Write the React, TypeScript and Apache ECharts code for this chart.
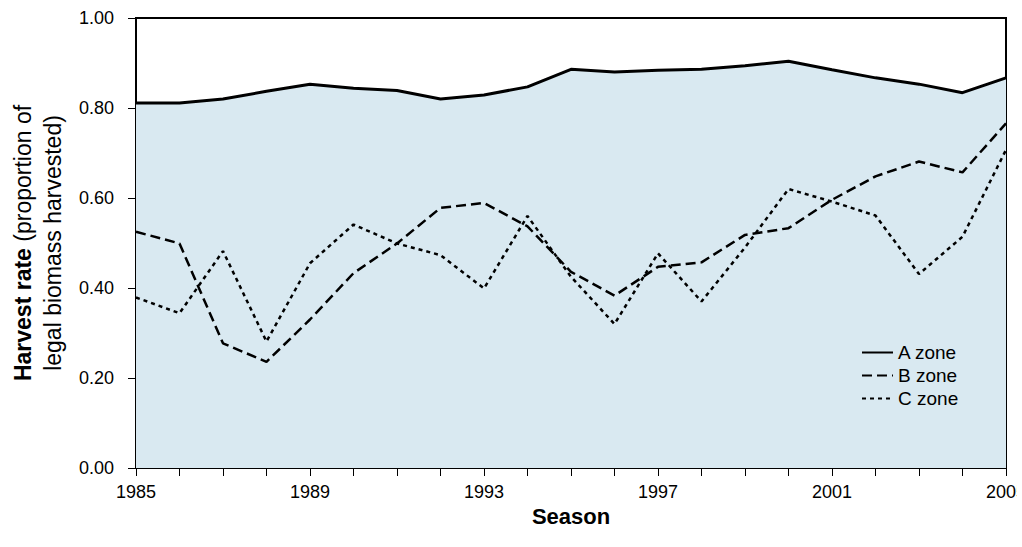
import React, { useEffect, useRef } from "react";
import * as echarts from "echarts";

const seasons = ["1985","1986","1987","1988","1989","1990","1991","1992","1993","1994","1995","1996","1997","1998","1999","2000","2001","2002","2003","2004","2005"];
const aZone = [0.811,0.811,0.820,0.837,0.853,0.844,0.839,0.820,0.829,0.847,0.886,0.880,0.884,0.886,0.894,0.904,0.885,0.867,0.853,0.834,0.867];
const bZone = [0.525,0.499,0.277,0.236,0.330,0.433,0.499,0.578,0.589,0.537,0.436,0.383,0.447,0.457,0.518,0.533,0.596,0.648,0.681,0.657,0.766];
const cZone = [0.379,0.344,0.482,0.281,0.455,0.541,0.499,0.473,0.399,0.560,0.425,0.320,0.477,0.370,0.490,0.620,0.592,0.561,0.431,0.514,0.707];
const seriesNames = ["A zone", "B zone", "C zone"];

const FONT = "'Liberation Sans', Arial, Helvetica, sans-serif";

export default function App() {
  const ref = useRef<HTMLDivElement>(null);
  useEffect(() => {
    if (!ref.current) return;
    const chart = echarts.init(ref.current, null, { renderer: "svg" });
    chart.setOption({
      animation: false,
      backgroundColor: "#ffffff",
      textStyle: { fontFamily: FONT, color: "#000" },
      grid: {
        left: 136,
        top: 18,
        width: 870,
        height: 450,
        show: true,
        borderColor: "#000",
        borderWidth: 2,
        backgroundColor: "transparent",
      },
      legend: {
        data: seriesNames,
        orient: "vertical",
        left: 856,
        top: 338,
        itemWidth: 31,
        itemHeight: 14,
        itemGap: 4,
        selectedMode: false,
        itemStyle: { color: "transparent", borderColor: "transparent", borderWidth: 0, opacity: 0 },
        textStyle: { fontFamily: FONT, fontSize: 19, color: "#000" },
      },
      xAxis: {
        type: "category",
        data: seasons,
        boundaryGap: false,
        name: "Season",
        nameLocation: "middle",
        nameGap: 33,
        nameTextStyle: { fontFamily: FONT, fontSize: 22, fontWeight: "bold", color: "#000" },
        axisLine: { lineStyle: { color: "#000", width: 2 } },
        axisTick: { show: true, interval: 0, length: 8, lineStyle: { color: "#000", width: 1 } },
        axisLabel: { interval: 3, margin: 15, fontSize: 18, color: "#000", fontFamily: FONT },
        splitLine: { show: false },
      },
      yAxis: {
        type: "value",
        min: 0,
        max: 1,
        interval: 0.2,
        name: "{b|Harvest rate} (proportion of\nlegal biomass harvested)",
        nameLocation: "middle",
        nameRotate: 90,
        nameGap: 63,
        nameTextStyle: {
          fontFamily: FONT,
          fontSize: 23,
          lineHeight: 30,
          color: "#000",
          rich: { b: { fontFamily: FONT, fontSize: 23, fontWeight: "bold", lineHeight: 30, color: "#000" } },
        },
        axisLine: { show: true, lineStyle: { color: "#000", width: 2 } },
        axisTick: { show: true, length: 8, lineStyle: { color: "#000", width: 1 } },
        axisLabel: { margin: 22, fontSize: 18, color: "#000", fontFamily: FONT, formatter: (v: number) => v.toFixed(2) },
        splitLine: { show: false },
      },
      series: [
        {
          name: seriesNames[0],
          type: "line",
          data: aZone,
          symbol: "none",
          lineStyle: { color: "#000", width: 3, type: "solid" },
          itemStyle: { color: "#000" },
          areaStyle: { color: "#d9e9f1", opacity: 1 },
          z: 2,
        },
        {
          name: seriesNames[1],
          type: "line",
          data: bZone,
          symbol: "none",
          lineStyle: { color: "#000", width: 2.5, type: [10, 5] },
          itemStyle: { color: "#000" },
          z: 3,
        },
        {
          name: seriesNames[2],
          type: "line",
          data: cZone,
          symbol: "none",
          lineStyle: { color: "#000", width: 2.5, type: [4, 4] },
          itemStyle: { color: "#000" },
          z: 3,
        },
      ],
    });
    return () => chart.dispose();
  }, []);
  return (
    <div style={{ position: "fixed", left: 0, top: 0, width: 1017, height: 547, overflow: "hidden", background: "#fff" }}>
      <div ref={ref} style={{ width: 1060, height: 547 }} />
    </div>
  );
}
